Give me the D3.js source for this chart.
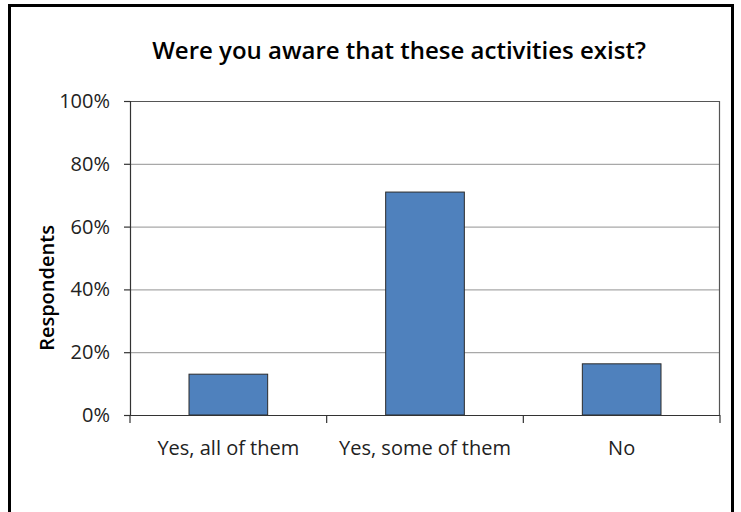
<!DOCTYPE html>
<html>
<head>
<meta charset="utf-8">
<script src="https://cdn.jsdelivr.net/npm/d3@7"></script>
<style>
  body { margin: 0; background: #fff; }
  svg { display: block; font-family: "Open Sans", Lato, sans-serif; }
</style>
</head>
<body>
<svg id="chart" width="741" height="512"></svg>
<script>
/*** DATA ***/
let categories = ["Yes, all of them", "Yes, some of them", "No"];
let values     = [13, 71, 16.3];
let yTicks     = [0, 20, 40, 60, 80, 100];

/*** INIT ***/
let margin = {top: 101, right: 21, bottom: 97, left: 130},
    width  = 741 - margin.left - margin.right,
    height = 512 - margin.top - margin.bottom;

let svg = d3.select("#chart");

// outer frame
svg.append("rect")
    .attr("x", 9.5).attr("y", 5.5)
    .attr("width", 723).attr("height", 520)
    .attr("fill", "none").attr("stroke", "#000").attr("stroke-width", 3);

// title
svg.append("text")
    .attr("x", 399).attr("y", 59)
    .attr("text-anchor", "middle")
    .attr("font-size", 24).attr("font-weight", 600)
    .text("Were you aware that these activities exist?");

let g = svg.append("g").attr("transform", `translate(${margin.left},${margin.top})`);

let x = d3.scaleBand().domain(categories).range([0, width]).paddingInner(0.6).paddingOuter(0.3),
    y = d3.scaleLinear().domain([0, 100]).range([height, 0]);

// gridlines
g.selectAll("line.grid")
    .data(yTicks.filter(d => d > 0 && d < 100))
    .enter().append("line")
    .attr("class", "grid")
    .attr("x1", 0).attr("x2", width)
    .attr("y1", d => y(d) + 0.5).attr("y2", d => y(d) + 0.5)
    .attr("stroke", "#a8a8a8").attr("stroke-width", 1.2);

// plot border (top and right)
g.append("path")
    .attr("d", `M0,0.5H${width - 0.5}V${height}`)
    .attr("fill", "none").attr("stroke", "#555").attr("stroke-width", 1.2);

// bars
g.selectAll("rect.bar")
    .data(values)
    .enter().append("rect")
    .attr("class", "bar")
    .attr("x", (d, i) => x(categories[i]))
    .attr("y", d => y(d))
    .attr("width", x.bandwidth())
    .attr("height", d => height - y(d))
    .attr("fill", "#4f81bd")
    .attr("stroke", "#2b2b2b").attr("stroke-width", 1);

// y axis
let yAxis = g.append("g")
    .call(d3.axisLeft(y).tickValues(yTicks).tickFormat(d => d + "%").tickSizeOuter(0).tickSize(6).tickPadding(14));
yAxis.select(".domain").attr("stroke", "#333").attr("stroke-width", 1.2);
yAxis.selectAll(".tick line").attr("stroke", "#333").attr("stroke-width", 1.2);
yAxis.selectAll("text").attr("font-size", 20).attr("fill", "#222").attr("font-family", "'Open Sans', sans-serif");

// x axis with boundary ticks
let xAxis = g.append("g").attr("transform", `translate(0,${height})`);
xAxis.append("line")
    .attr("x1", 0).attr("x2", width).attr("y1", 0.5).attr("y2", 0.5)
    .attr("stroke", "#333").attr("stroke-width", 1.2);
xAxis.selectAll("line.sep")
    .data(d3.range(categories.length + 1))
    .enter().append("line")
    .attr("class", "sep")
    .attr("x1", i => i === 0 ? 0 : (i === categories.length ? width : x(categories[i]) - x.step() * x.paddingInner() / 2))
    .attr("x2", i => i === 0 ? 0 : (i === categories.length ? width : x(categories[i]) - x.step() * x.paddingInner() / 2))
    .attr("y1", 0).attr("y2", 8)
    .attr("stroke", "#333").attr("stroke-width", 1.2);
xAxis.selectAll("text")
    .data(categories)
    .enter().append("text")
    .attr("x", d => x(d) + x.bandwidth() / 2)
    .attr("y", 40)
    .attr("text-anchor", "middle")
    .attr("font-size", 20).attr("fill", "#222")
    .text(d => d);

// y axis title
svg.append("text")
    .attr("transform", "translate(54,288) rotate(-90)")
    .attr("text-anchor", "middle")
    .attr("font-size", 20).attr("font-weight", 600)
    .text("Respondents");
</script>
</body>
</html>
